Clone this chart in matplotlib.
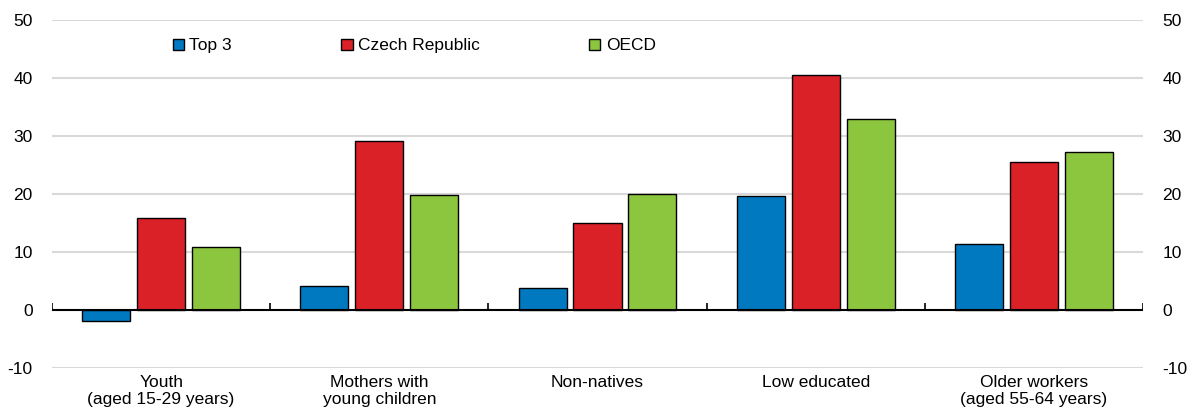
import matplotlib.pyplot as plt
import numpy as np

plt.rcParams['font.family'] = ['Liberation Sans', 'DejaVu Sans']
plt.rcParams['axes.unicode_minus'] = False

# dados
categorias = ["Youth\n(aged 15-29 years)", "Mothers with\nyoung children", "Non-natives",
              "Low educated", "Older workers\n(aged 55-64 years)"]
series = ["Top 3", "Czech Republic", "OECD"]
top3 = [-1.9, 4.1, 3.8, 19.7, 11.3]
czech = [15.9, 29.1, 15.0, 40.6, 25.6]
oecd = [10.9, 19.8, 20.0, 33.0, 27.3]
cores = ["#0079C1", "#DA2128", "#8CC63F"]

fig = plt.figure(figsize=(11.92, 4.2), dpi=100)
ax = fig.add_axes([52 / 1192, 52 / 420, (1143 - 52) / 1192, 348 / 420])

x = np.arange(len(categorias))
largura = 0.22
passo = 0.252
for i, (vals, nome) in enumerate(zip([top3, czech, oecd], series)):
    ax.bar(x + (i - 1) * passo, vals, largura, color=cores[i], edgecolor="black",
           linewidth=1, label=nome, zorder=3)

ax.set_xlim(-0.5, len(categorias) - 0.5)
ax.set_ylim(-10, 50)
ax.set_yticks(range(-10, 51, 10))
for y in range(-10, 51, 10):
    if y != 0:
        ax.axhline(y, color="#d9d9d9", linewidth=1.5, zorder=1)
ax.axhline(0, color="black", linewidth=1.5, zorder=4)
ax.vlines(np.arange(len(categorias) + 1) - 0.5, 0, 1.2, color="black", linewidth=1.2, zorder=4)

for s in ax.spines.values():
    s.set_visible(False)

ax.set_xticks(x)
ax.set_xticklabels(categorias, fontsize=12.5)
ax.tick_params(axis="x", length=0, pad=5)
ax.tick_params(axis="y", length=0, labelsize=12.5, left=True, right=True,
               labelleft=True, labelright=True, pad=14)

ax.legend(loc="upper left", bbox_to_anchor=(114 / 1091, 0.967), ncol=3, frameon=False,
          fontsize=12.5, handlelength=0.65, handleheight=0.65, handletextpad=0.3,
          columnspacing=6.3, borderaxespad=0)

fig.savefig("out.png", dpi=100)
